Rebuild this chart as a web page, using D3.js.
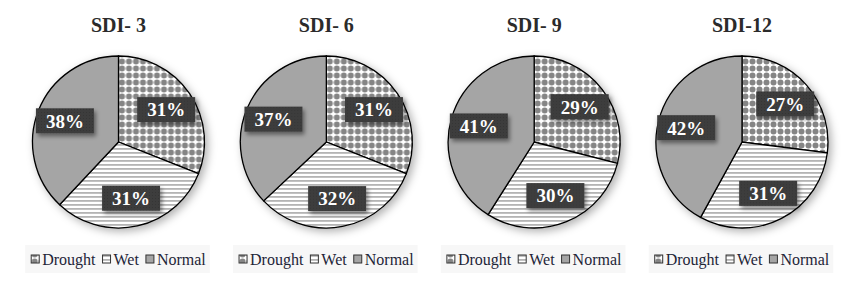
<!DOCTYPE html>
<html>
<head>
<meta charset="utf-8">
<script src="https://cdn.jsdelivr.net/npm/d3@7"></script>
<style>
  body { margin: 0; background: #fff; }
  svg { display: block; }
</style>
</head>
<body>
<div id="chart"></div>
<script>
// data
const titles = ["SDI- 3", "SDI- 6", "SDI- 9", "SDI-12"];
const categories = ["Drought", "Wet", "Normal"];
const drought = [31, 31, 29, 27];
const wet = [31, 32, 30, 31];
const normal = [38, 37, 41, 42];

const width = 862, height = 282;
const radius = 86, cy = 142;
const serif = "'Liberation Serif', 'Times New Roman', serif";

const svg = d3.select("#chart").append("svg")
  .attr("width", width)
  .attr("height", height)
  .style("font-family", serif);

const defs = svg.append("defs");

// drought: grey dots on white
const pDots = defs.append("pattern")
  .attr("id", "p-drought")
  .attr("patternUnits", "userSpaceOnUse")
  .attr("width", 7).attr("height", 7);
pDots.append("rect").attr("width", 7).attr("height", 7).attr("fill", "#fff");
pDots.append("circle").attr("cx", 3.5).attr("cy", 3.5).attr("r", 3).attr("fill", "#858585");

// wet: horizontal grey stripes
const pStripe = defs.append("pattern")
  .attr("id", "p-wet")
  .attr("patternUnits", "userSpaceOnUse")
  .attr("width", 8).attr("height", 4);
pStripe.append("rect").attr("width", 8).attr("height", 4).attr("fill", "#fff");
pStripe.append("rect").attr("y", 2).attr("width", 8).attr("height", 1.8).attr("fill", "#b4b4b4");

// label box texture
const pBox = defs.append("pattern")
  .attr("id", "p-box")
  .attr("patternUnits", "userSpaceOnUse")
  .attr("width", 3).attr("height", 3);
pBox.append("rect").attr("width", 3).attr("height", 3).attr("fill", "#3e3e3e");
pBox.append("rect").attr("width", 1).attr("height", 1).attr("fill", "#333");

const pieShadow = defs.append("filter").attr("id", "pie-shadow")
  .attr("x", "-20%").attr("y", "-20%").attr("width", "140%").attr("height", "140%");
pieShadow.append("feDropShadow")
  .attr("dx", 3).attr("dy", 3).attr("stdDeviation", 4)
  .attr("flood-color", "#000").attr("flood-opacity", 0.3);

const boxShadow = defs.append("filter").attr("id", "box-shadow")
  .attr("x", "-30%").attr("y", "-40%").attr("width", "160%").attr("height", "190%");
boxShadow.append("feDropShadow")
  .attr("dx", 2).attr("dy", 3).attr("stdDeviation", 2)
  .attr("flood-color", "#000").attr("flood-opacity", 0.45);

const fills = {
  Drought: "url(#p-drought)",
  Wet: "url(#p-wet)",
  Normal: "#a5a5a5"
};

const x = d3.scalePoint()
  .domain(titles)
  .range([118.5, 742]);

const pie = d3.pie().sort(null).value(d => d.value);
const arc = d3.arc().innerRadius(0).outerRadius(radius);
const labelArc = d3.arc().innerRadius(radius * 0.67).outerRadius(radius * 0.67);

titles.forEach((title, i) => {
  const cx = x(title);
  const values = [
    { cat: "Drought", value: drought[i] },
    { cat: "Wet", value: wet[i] },
    { cat: "Normal", value: normal[i] }
  ];

  const panel = svg.append("g");

  // title
  panel.append("text")
    .attr("x", cx)
    .attr("y", 32)
    .attr("text-anchor", "middle")
    .style("font-family", serif)
    .attr("font-weight", "bold")
    .attr("font-size", 20)
    .attr("fill", "#2b2b2b")
    .text(title);

  const g = panel.append("g")
    .attr("transform", `translate(${cx},${cy})`);

  g.append("g")
    .attr("filter", "url(#pie-shadow)")
    .selectAll("path")
    .data(pie(values))
    .enter().append("path")
    .attr("d", arc)
    .attr("fill", d => fills[d.data.cat])
    .attr("stroke", "#000")
    .attr("stroke-width", 1.3);

  // labels
  const labels = g.selectAll(".lbl")
    .data(pie(values))
    .enter().append("g")
    .attr("class", "lbl")
    .attr("transform", d => `translate(${labelArc.centroid(d)})`);

  labels.append("rect")
    .attr("x", -29).attr("y", -12.5)
    .attr("width", 58).attr("height", 25)
    .attr("fill", "url(#p-box)")
    .attr("filter", "url(#box-shadow)");

  labels.append("text")
    .attr("text-anchor", "middle")
    .attr("dy", "0.36em")
    .style("font-family", serif)
    .attr("font-weight", "bold")
    .attr("font-size", 19)
    .attr("fill", "#fff")
    .text(d => d.data.value + "%");

  // legend
  const leg = panel.append("g");
  const bg = leg.append("rect").attr("fill", "#f7f7f7");
  let pos = 0;
  const items = [];
  categories.forEach(cat => {
    const item = leg.append("g");
    item.append("rect")
      .attr("x", 0).attr("y", -10)
      .attr("width", 8).attr("height", 8)
      .attr("fill", fills[cat])
      .attr("stroke", "#333")
      .attr("stroke-width", 1);
    const t = item.append("text")
      .attr("x", 11)
      .style("font-family", serif)
      .attr("font-size", 16)
      .attr("fill", "#1e2538")
      .text(cat);
    const w = 11 + t.node().getComputedTextLength();
    items.push({ item, x: pos });
    pos += w + 7;
  });
  const total = pos - 7;
  const x0 = cx - total / 2;
  items.forEach(d => d.item.attr("transform", `translate(${x0 + d.x},265)`));
  bg.attr("x", x0 - 6).attr("y", 245)
    .attr("width", total + 10).attr("height", 28);
});
</script>
</body>
</html>
